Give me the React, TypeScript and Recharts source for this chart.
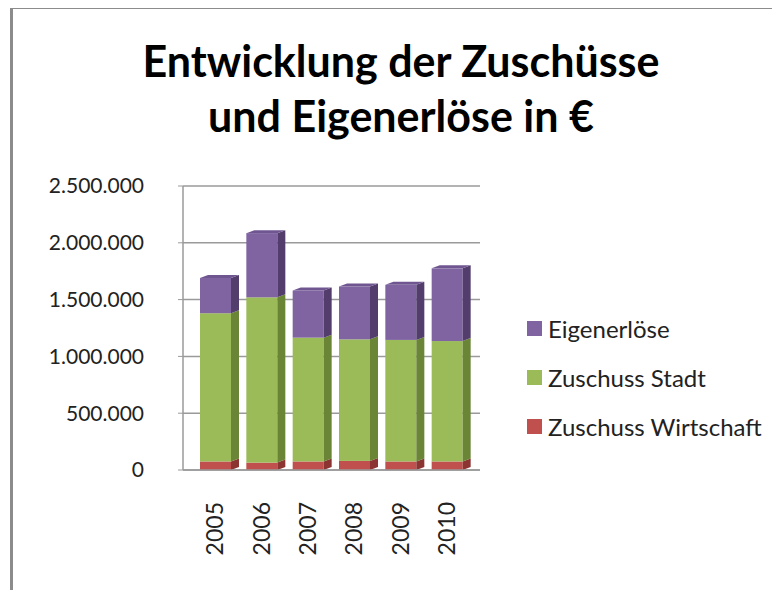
import { BarChart, Bar, XAxis, YAxis, CartesianGrid } from 'recharts'

const years = ['2005', '2006', '2007', '2008', '2009', '2010']
const zuschussWirtschaft = [75000, 65000, 75000, 80000, 75000, 75000]
const zuschussStadt = [1305000, 1455000, 1090000, 1070000, 1070000, 1060000]
const eigenerloese = [310000, 565000, 415000, 465000, 485000, 640000]
const yTicks = [0, 500000, 1000000, 1500000, 2000000, 2500000]

const data = years.map((year, i) => ({
  year,
  wirtschaft: zuschussWirtschaft[i],
  stadt: zuschussStadt[i],
  eigen: eigenerloese[i],
}))

const FONT = 'Lato, "Open Sans", sans-serif'

const legendItems = [
  { label: 'Eigenerlöse', color: '#8064A2' },
  { label: 'Zuschuss Stadt', color: '#9BBB59' },
  { label: 'Zuschuss Wirtschaft', color: '#C0504D' },
]

function fmt(v: number) {
  return v.toLocaleString('de-DE')
}

// front face plus a darker side face, a bit like the excel 3d column
function Column3D(props: any) {
  const { x, y, width, height, fill, side, top } = props
  if (!height || height <= 0) return null
  const d = 8
  const dy = 3
  return (
    <g>
      <rect x={x} y={y} width={width} height={height} fill={fill} />
      <polygon
        points={`${x + width},${y} ${x + width + d},${y - dy} ${x + width + d},${y + height - dy} ${x + width},${y + height}`}
        fill={side}
      />
      {top && (
        <polygon
          points={`${x},${y} ${x + d},${y - dy} ${x + width + d},${y - dy} ${x + width},${y}`}
          fill={top}
        />
      )}
    </g>
  )
}

function YearTick(props: any) {
  const { x, payload } = props
  const ty = 502
  return (
    <text
      x={x + 8}
      y={ty}
      textAnchor="end"
      transform={`rotate(-90, ${x + 8}, ${ty})`}
      fontSize={23}
      fill="#222"
      fontFamily={FONT}
    >
      {payload.value}
    </text>
  )
}

export default function App() {
  return (
    <div style={{ position: 'relative', width: 780, height: 598, margin: -8, overflow: 'hidden', background: '#fff' }}>
      <div
        style={{
          position: 'absolute',
          left: 10,
          top: 6,
          width: 800,
          height: 620,
          borderLeft: '3px solid #8c8c8c',
          borderTop: '3px solid #8c8c8c',
        }}
      />
      <div
        style={{
          position: 'absolute',
          left: 0,
          top: 33,
          width: 802,
          textAlign: 'center',
          fontFamily: FONT,
          fontWeight: 700,
          fontSize: 43,
          lineHeight: '55px',
          color: '#000',
        }}
      >
        Entwicklung der Zuschüsse
        <br />
        und Eigenerlöse in €
      </div>

      <div style={{ position: 'absolute', left: 0, top: 0 }}>
        <BarChart
          width={780}
          height={598}
          data={data}
          margin={{ top: 186, right: 300, bottom: 98, left: 0 }}
          barCategoryGap={15}
        >
          <CartesianGrid vertical={false} stroke="#9a9a9a" strokeWidth={1.5} />
          <XAxis
            dataKey="year"
            axisLine={{ stroke: '#9a9a9a', strokeWidth: 1.5 }}
            tickLine={false}
            tick={<YearTick />}
            interval={0}
            padding={{ left: 9, right: 10 }}
          />
          <YAxis
            width={183}
            domain={[0, 2500000]}
            ticks={yTicks}
            tickFormatter={fmt}
            axisLine={{ stroke: '#9a9a9a', strokeWidth: 1.5 }}
            tickLine={{ stroke: '#9a9a9a' }}
            tickSize={5}
            tickMargin={34}
            tick={{ fontSize: 21, fill: '#222', fontFamily: FONT }}
          />
          <Bar
            dataKey="wirtschaft"
            stackId="a"
            fill="#C0504D"
            barSize={31}
            isAnimationActive={false}
            shape={(p: any) => <Column3D {...p} side="#8c3432" />}
          />
          <Bar
            dataKey="stadt"
            stackId="a"
            fill="#9BBB59"
            barSize={31}
            isAnimationActive={false}
            shape={(p: any) => <Column3D {...p} side="#6a8535" />}
          />
          <Bar
            dataKey="eigen"
            stackId="a"
            fill="#8064A2"
            barSize={31}
            isAnimationActive={false}
            shape={(p: any) => <Column3D {...p} side="#523d6d" top="#6f5690" />}
          />
        </BarChart>
      </div>

      <div style={{ position: 'absolute', left: 527, top: 304, fontFamily: FONT, fontSize: 24, color: '#222' }}>
        {legendItems.map((item) => (
          <div key={item.label} style={{ display: 'flex', alignItems: 'center', height: 49 }}>
            <span style={{ display: 'inline-block', width: 15, height: 15, background: item.color, marginRight: 6 }} />
            <span>{item.label}</span>
          </div>
        ))}
      </div>
    </div>
  )
}
